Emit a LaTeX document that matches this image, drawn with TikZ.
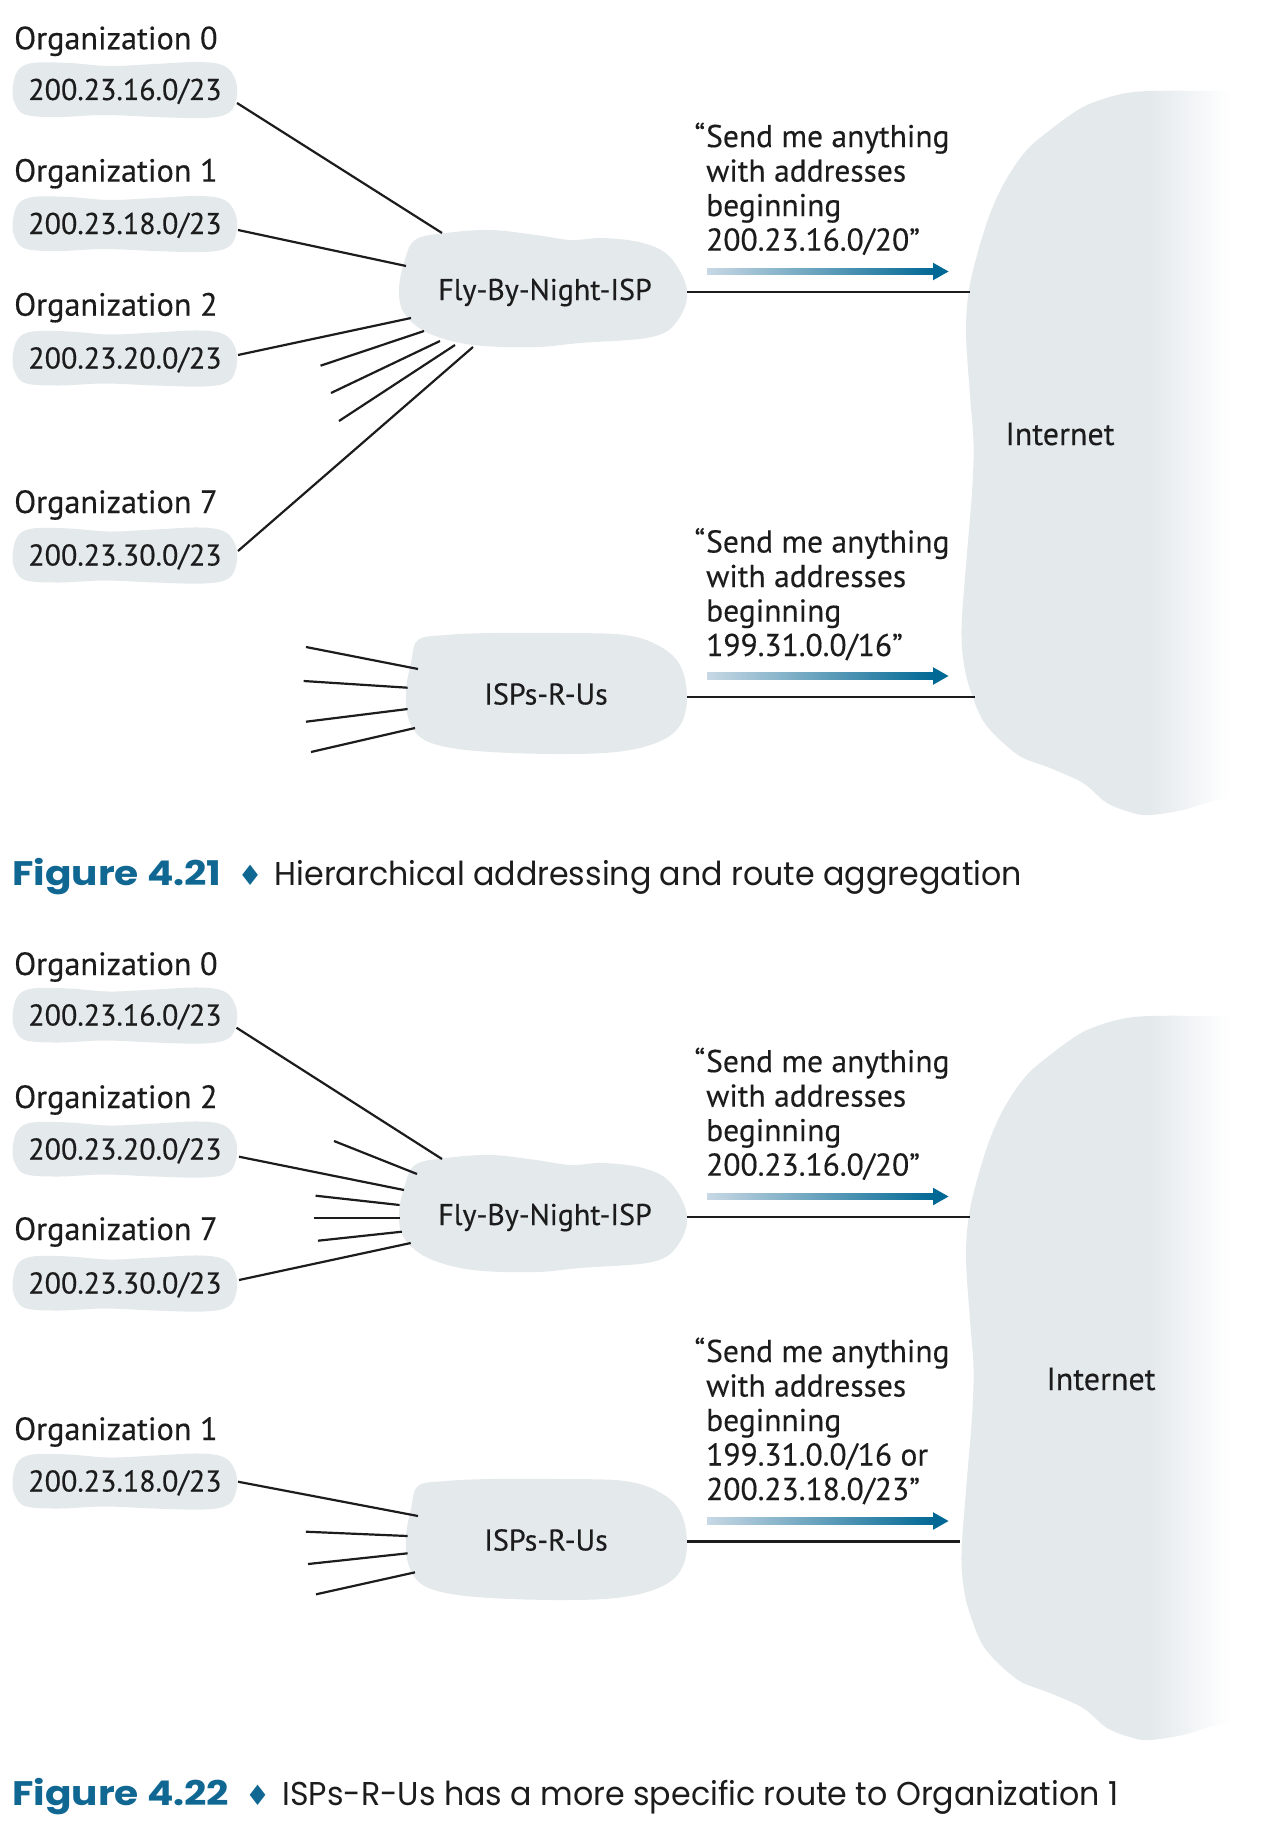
\documentclass[tikz,border=0pt]{standalone}
\usepackage{fontspec}
\setmainfont{PT Sans}[FakeBold=0.3]
\newfontfamily\capfont{Poppins}[FakeStretch=0.96]
\newfontfamily\capbold{Poppins Bold}[FakeStretch=1.15]
\newfontfamily\symfont{DejaVu Sans}
\usetikzlibrary{calc}
\definecolor{blobgray}{RGB}{228,233,236}
\definecolor{arrowdark}{RGB}{0,104,148}
\definecolor{arrowlight}{RGB}{200,216,228}
\definecolor{figblue}{RGB}{16,104,146}
\definecolor{ink}{RGB}{28,28,28}
\pgfdeclarelayer{background}
\pgfsetlayers{background,main}
\tikzset{
  conn/.style={draw=ink, line width=2.2pt},
  orglabel/.style={anchor=base west, inner sep=0pt, text=ink, font=\fontsize{32.2}{34}\selectfont},
  orgnode/.style={rectangle, inner sep=0pt, text height=20pt, text depth=0pt, text=ink, font=\fontsize{30}{34}\selectfont},
  cloudnode/.style={rectangle, inner sep=0pt, text height=21pt, text depth=0pt, text=ink, font=\fontsize{30}{34}\selectfont},
  quotetext/.style={anchor=base west, inner sep=0pt, align=left, text=ink, font=\fontsize{31.5}{34.5}\selectfont},
  inettext/.style={anchor=base, inner sep=0pt, text=ink, font=\fontsize{32}{34}\selectfont},
  captext/.style={anchor=base west, inner sep=0pt, text=ink, font=\capfont\fontsize{33}{36}\selectfont},
  orgblob/.pic={\fill[blobgray] plot[smooth cycle, tension=0.6] coordinates {(-112,0) (-107,-19) (-92,-27) (-55,-27) (-15,-24) (30,-26) (75,-28) (100,-24) (111,-10) (112,8) (104,23) (80,28) (30,27) (-20,25) (-65,27) (-98,25) (-109,15)};},
  flycloud/.pic={\fill[blobgray] plot[smooth cycle, tension=0.6] coordinates {(-130,-49.5) (-99,-56.5) (-54,-59.5) (-9,-54.5) (26,-49.5) (58,-51.5) (98,-46.5) (125,-32.5) (142,0.5) (133,30.5) (107,47.5) (35,53.5) (-9,57.5) (-72,55.5) (-117,43.5) (-141,23.5) (-146,0.5) (-141,-26.5)};},
  ispcloud/.pic={\fill[blobgray] plot[smooth cycle, tension=0.6] coordinates {(-128,-54) (-100,-59) (-55,-61) (12,-61) (79,-59) (115,-47) (135,-27) (141,6) (133,33) (110,49) (70,58) (12,60) (-55,58) (-100,53) (-126,43) (-138,23) (-140,-4) (-135,-31)};},
  inetcloud/.pic={
    \begin{scope}
      \clip plot[smooth cycle, tension=0.55] coordinates {(1300,450) (1300,91) (1230,91) (1150,91) (1117,95) (1083,107) (1050,130) (1025,152) (1003,185) (986,225) (970,284) (966,332) (970,395) (973.5,443.5) (972,492) (966,565) (961.5,628) (964,665) (972,695) (986,725) (1018,755) (1050,768) (1083,783) (1107,803) (1133,813) (1150,815) (1183,810) (1217,800) (1260,792) (1300,792)};
      \fill[blobgray] (900,0) rectangle (1151,900);
      \shade[left color=blobgray, right color=white] (1150,0) rectangle (1230,900);
    \end{scope}},
  grarrow/.pic={
    \shade[left color=arrowlight, right color=arrowdark] (0,-3.4) rectangle (228,3.4);
    \fill[arrowdark] (226,-3.4) -- (226,-8.8) -- (241.5,0) -- (226,8.8) -- (226,3.4) -- cycle;}
}
\newcommand{\capsep}[1]{{\capbold\fontsize{34}{36}\selectfont\color{figblue}#1}\hspace{20pt}\makebox[17pt]{\symfont\fontsize{28}{30}\selectfont\color{figblue}♦}\hspace{16pt}}
\begin{document}
\begin{tikzpicture}[x=1pt, y=-1pt]
\useasboundingbox (0,0) rectangle (1278,1830);

% ================= Figure 4.21 =================
\node[orglabel] (l0) at (14,49.3) {Organization 0};
\node[orglabel] (l1) at (14,181.7) {Organization 1};
\node[orglabel] (l2) at (14,315.7) {Organization 2};
\node[orglabel] (l7) at (14,513) {Organization 7};
\node[orgnode] (a0) at (125,90) {200.23.16.0/23};
\node[orgnode] (a1) at (125,224) {200.23.18.0/23};
\node[orgnode] (a2) at (125,358.5) {200.23.20.0/23};
\node[orgnode] (a7) at (125,555.5) {200.23.30.0/23};
\node[cloudnode] (fly1) at (545,289.5) {Fly-By-Night-ISP};
\node[cloudnode] (isp1) at (546,694) {ISPs-R-Us};
\node[inettext] (inet1) at (1060,445) {Internet};
\node[quotetext] (q1) at (706,250.6) {\llap{“\kern1pt}Send me anything\\with addresses\\beginning\\200.23.16.0/20”};
\node[quotetext] (q2) at (706,656) {\llap{“\kern1pt}Send me anything\\with addresses\\beginning\\199.31.0.0/16”};
\coordinate (e1) at (970,292);
\coordinate (e2) at (975,696.6);
\coordinate (s1) at (320.5,365.7);
\coordinate (s2) at (331,393);
\coordinate (s3) at (339,421);
\coordinate (t1) at (306,647);
\coordinate (t2) at (303.6,681);
\coordinate (t3) at (306,721.7);
\coordinate (t4) at (311,752);

\begin{pgfonlayer}{background}
  \pic at (0,0) {inetcloud};
  \pic at (124.5,90) {orgblob};
  \pic at (124.5,224) {orgblob};
  \pic at (124.5,358.5) {orgblob};
  \pic at (124.5,555.5) {orgblob};
  \pic at (fly1.center) {flycloud};
  \pic at (isp1.center) {ispcloud};
\end{pgfonlayer}

\pic at (707,271.5) {grarrow};
\pic at (707,676) {grarrow};

\draw[conn] ($(a0)+(112,13)$) -- ($(fly1)+(-103,-56.5)$);
\draw[conn] ($(a1)+(113,6)$) -- ($(fly1)+(-139,-23.5)$);
\draw[conn] ($(a2)+(113,-3.5)$) -- ($(fly1)+(-134,28.5)$);
\draw[conn] (s1) -- ($(fly1)+(-121,41.5)$);
\draw[conn] (s2) -- ($(fly1)+(-105,51.5)$);
\draw[conn] (s3) -- ($(fly1)+(-90,55.5)$);
\draw[conn] ($(a7)+(113,-4.5)$) -- ($(fly1)+(-72,57.5)$);
\draw[conn] (t1) -- ($(isp1)+(-128,-25)$);
\draw[conn] (t2) -- ($(isp1)+(-138.4,-6.3)$);
\draw[conn] (t3) -- ($(isp1)+(-138.4,15)$);
\draw[conn] (t4) -- ($(isp1)+(-131,34)$);
\draw[conn] ($(fly1)+(142,2.5)$) -- (e1);
\draw[conn] ($(isp1)+(141,2.6)$) -- (e2);

\node[captext] (cap1) at (12,885) {\capsep{Figure 4.21}Hierarchical addressing and route aggregation};

% ================= Figure 4.22 =================
\node[orglabel] (m0) at (14,975) {Organization 0};
\node[orglabel] (m2) at (14,1108) {Organization 2};
\node[orglabel] (m7) at (14,1240) {Organization 7};
\node[orglabel] (m1) at (14,1440) {Organization 1};
\node[orgnode] (b0) at (125,1015.5) {200.23.16.0/23};
\node[orgnode] (b2) at (125,1149.5) {200.23.20.0/23};
\node[orgnode] (b7) at (125,1283.5) {200.23.30.0/23};
\node[orgnode] (b1) at (125,1481.5) {200.23.18.0/23};
\node[cloudnode] (fly2) at (545,1214.5) {Fly-By-Night-ISP};
\node[cloudnode] (isp2) at (546,1540) {ISPs-R-Us};
\node[inettext] (inet2) at (1101,1390) {Internet};
\node[quotetext] (q3) at (706,1175.6) {\llap{“\kern1pt}Send me anything\\with addresses\\beginning\\200.23.16.0/20”};
\node[quotetext] (q4) at (706,1500) {\llap{“\kern1pt}Send me anything\\with addresses\\beginning\\199.31.0.0/16 or\\200.23.18.0/23”};
\coordinate (e3) at (970,1217);
\coordinate (e4) at (960,1541.5);
\coordinate (u1) at (334,1141);
\coordinate (u2) at (315.6,1195.7);
\coordinate (u3) at (313.8,1218.3);
\coordinate (u4) at (318,1240.7);
\coordinate (v1) at (305.8,1531.7);
\coordinate (v2) at (308,1564);
\coordinate (v3) at (316,1594.3);

\begin{pgfonlayer}{background}
  \pic at (0,925) {inetcloud};
  \pic at (124.5,1015.5) {orgblob};
  \pic at (124.5,1149.5) {orgblob};
  \pic at (124.5,1283.5) {orgblob};
  \pic at (124.5,1481.5) {orgblob};
  \pic at (fly2.center) {flycloud};
  \pic at (isp2.center) {ispcloud};
\end{pgfonlayer}

\pic at (707,1196.5) {grarrow};
\pic at (707,1521) {grarrow};

\draw[conn] ($(b0)+(111.5,12.2)$) -- ($(fly2)+(-103,-55.5)$);
\draw[conn] ($(b2)+(114,7.2)$) -- ($(fly2)+(-141,-24.5)$);
\draw[conn] (u1) -- ($(fly2)+(-128,-40.5)$);
\draw[conn] (u2) -- ($(fly2)+(-145.4,-9.5)$);
\draw[conn] (u3) -- ($(fly2)+(-145.4,3.8)$);
\draw[conn] (u4) -- ($(fly2)+(-143.2,17.2)$);
\draw[conn] ($(b7)+(114,-3.5)$) -- ($(fly2)+(-134.3,28.5)$);
\draw[conn] ($(b1)+(113,0.2)$) -- ($(isp2)+(-128,-24)$);
\draw[conn] (v1) -- ($(isp2)+(-138.4,-4)$);
\draw[conn] (v2) -- ($(isp2)+(-138.4,13.3)$);
\draw[conn] (v3) -- ($(isp2)+(-131,32.3)$);
\draw[conn] ($(fly2)+(142,2.5)$) -- (e3);
\draw[conn] ($(isp2)+(141,1.5)$) -- (e4);

\node[captext] (cap2) at (12,1805) {\capsep{Figure 4.22}ISPs-R-Us has a more specific route to Organization 1};
\end{tikzpicture}
\end{document}
